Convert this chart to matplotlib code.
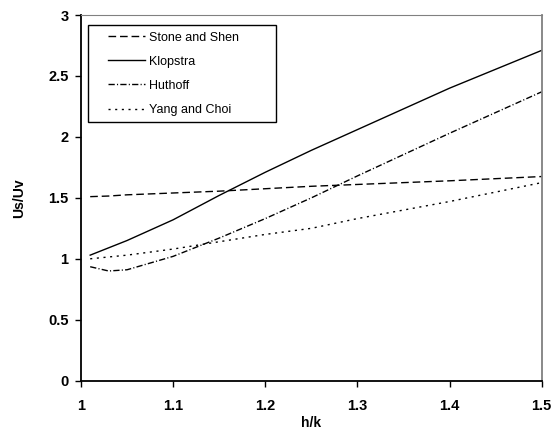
import numpy as np
import matplotlib
matplotlib.use('Agg')
import matplotlib.pyplot as plt
from matplotlib.patches import Rectangle

plt.rcParams['font.family'] = ['Liberation Sans', 'DejaVu Sans']

# values
hk = [1.01, 1.03, 1.05, 1.1, 1.15, 1.2, 1.25, 1.3, 1.4, 1.5]
stone_shen = [1.51, 1.515, 1.525, 1.54, 1.555, 1.575, 1.595, 1.61, 1.64, 1.675]
klopstra = [1.03, 1.09, 1.15, 1.32, 1.52, 1.71, 1.89, 2.06, 2.40, 2.71]
huthoff = [0.935, 0.90, 0.91, 1.02, 1.17, 1.33, 1.50, 1.68, 2.03, 2.37]
yang_choi = [1.0, 1.015, 1.03, 1.08, 1.14, 1.20, 1.25, 1.33, 1.47, 1.625]

xticks = [1, 1.1, 1.2, 1.3, 1.4, 1.5]
yticks = [0, 0.5, 1, 1.5, 2, 2.5, 3]

fig = plt.figure(figsize=(5.52, 4.30), dpi=100)
ax = fig.add_axes([0.1467, 0.1147, 0.8346, 0.8503])

ax.plot(hk, stone_shen, color='black', lw=1, dashes=(5.5, 2.8), label='Stone and Shen')
ax.plot(hk, klopstra, color='black', lw=1, label='Klopstra')
ax.plot(hk, huthoff, color='black', lw=1, dashes=(4.5, 1.6, 0.8, 1.6), label='Huthoff')
ax.plot(hk, yang_choi, color='black', lw=1, dashes=(1.5, 3.3), label='Yang and Choi')

ax.set_xlim(1, 1.5)
ax.set_ylim(0, 3)
ax.set_xticks(xticks)
ax.set_xticklabels(['1', '1.1', '1.2', '1.3', '1.4', '1.5'])
ax.set_yticks(yticks)
ax.set_yticklabels(['0', '0.5', '1', '1.5', '2', '2.5', '3'])
ax.tick_params(direction='out', length=4, width=1, labelsize=10.5)
ax.tick_params(axis='x', pad=9)
ax.tick_params(axis='y', pad=5)
for lab in ax.get_xticklabels() + ax.get_yticklabels():
    lab.set_fontweight('bold')

ax.spines['left'].set_linewidth(1.3)
ax.spines['bottom'].set_linewidth(1.3)
ax.spines['top'].set_color('#808080')
ax.spines['right'].set_color('#808080')
ax.spines['right'].set_linewidth(1.3)

ax.set_xlabel('h/k', fontweight='bold', fontsize=10)
ax.set_ylabel('Us/Uv', fontweight='bold', fontsize=10)
ax.xaxis.set_label_coords(0.5, -0.096)
ax.yaxis.set_label_coords(-0.118, 0.5)

# legend box drawn separately (Excel style padding)
ax.add_patch(Rectangle((0.0152, 0.707), 0.408, 0.266, transform=ax.transAxes,
                       facecolor='white', edgecolor='black', lw=1, zorder=3))
leg = ax.legend(loc='upper left', bbox_to_anchor=(0.0586, 0.955), fontsize=9,
                frameon=False, handlelength=3.0, handletextpad=0.25,
                labelspacing=0.97, borderpad=0, borderaxespad=0)
leg.set_zorder(4)

fig.savefig('out.png', dpi=100)
